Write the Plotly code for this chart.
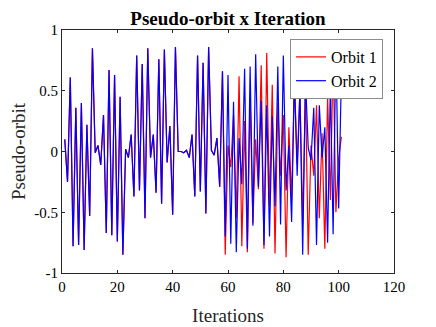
import plotly.graph_objects as go

# iterations 1..101
iterations = list(range(1, 102))

# shared part of both orbits (iterations 1..58)
common = [0.10, -0.25, 0.61, -0.78, 0.36, -0.77, 0.40, -0.81, 0.22, -0.53,
          0.85, -0.01, 0.05, -0.11, 0.30, -0.67, 0.67, -0.69, 0.63, -0.74,
          0.45, -0.85, 0.02, -0.05, 0.14, -0.37, 0.79, -0.32, 0.72, -0.55,
          0.85, -0.05, 0.14, -0.34, 0.76, -0.43, 0.84, -0.09, 0.21, -0.52,
          0.86, 0.00, 0.00, -0.01, 0.01, -0.05, 0.14, -0.37, 0.79, -0.33,
          0.73, -0.51, 0.86, 0.01, -0.03, 0.11, -0.29, 0.66]

# iterations 59..101
tail_orbit1 = [-0.85, 0.05, -0.13, 0.30, -0.55, 0.62, -0.78, 0.25, -0.83, 0.45,
               -0.59, 0.10, -0.31, 0.71, -0.80, 0.81, -0.45, 0.55, -0.84, 0.40,
               -0.20, 0.30, -0.87, 0.20, -0.40, 0.60, -0.10, 0.50, -0.60, 0.55,
               -0.85, 0.05, -0.20, 0.38, -0.55, 0.15, -0.80, 0.45, -0.40, 0.80,
               -0.50, -0.05, 0.12]
tail_orbit2 = [-0.70, 0.63, -0.76, 0.41, -0.83, 0.11, -0.27, 0.68, -0.80, 0.70,
               -0.61, 0.80, -0.29, 0.42, -0.77, 0.38, -0.70, 0.29, -0.45, 0.70,
               -0.60, 0.79, -0.32, 0.05, -0.58, 0.61, -0.20, 0.50, -0.85, 0.60,
               0.03, -0.07, 0.36, -0.77, 0.38, -0.05, 0.20, -0.75, 0.55, -0.68,
               0.88, -0.47, 0.65]

orbit1 = common + tail_orbit1
orbit2 = common + tail_orbit2

x_ticks = [0, 20, 40, 60, 80, 100, 120]
y_ticks = [-1, -0.5, 0, 0.5, 1]
y_tick_text = ["-1", "-0.5", "0", "0.5", "1"]

serif = "Liberation Serif, Times New Roman, serif"

fig = go.Figure()
fig.add_trace(go.Scatter(x=iterations, y=orbit1, mode="lines", name="Orbit 1",
                         line=dict(color="#ff0000", width=1.2)))
fig.add_trace(go.Scatter(x=iterations, y=orbit2, mode="lines", name="Orbit 2",
                         line=dict(color="#0000ff", width=1.2)))

axis_common = dict(showline=True, linecolor="#262626", linewidth=1, mirror="ticks",
                   ticks="inside", ticklen=3, tickcolor="#262626",
                   showgrid=False, zeroline=False, automargin=False,
                   tickfont=dict(family=serif, size=15, color="#000000"))

# page body adds 8px, margins compensate for it
fig.update_layout(
    width=436, height=327,
    margin=dict(l=54, r=50, t=22, b=62),
    paper_bgcolor="white", plot_bgcolor="white",
    title=dict(text="<b>Pseudo-orbit x Iteration</b>", x=0.5, xref="paper",
               xanchor="center", y=0.99, yref="container", yanchor="top",
               font=dict(family=serif, size=19, color="#000000")),
    xaxis=dict(range=[0, 120], tickvals=x_ticks,
               title=dict(text="Iterations", standoff=14,
                          font=dict(family=serif, size=19, color="#262626")),
               **axis_common),
    yaxis=dict(range=[-1, 1], tickvals=y_ticks, ticktext=y_tick_text,
               title=dict(text="Pseudo-orbit", standoff=6,
                          font=dict(family=serif, size=19, color="#262626")),
               **axis_common),
    legend=dict(x=0.967, y=0.963, xanchor="right", yanchor="top",
                bgcolor="white", bordercolor="#8c8c8c", borderwidth=1,
                font=dict(family=serif, size=16, color="#000000"),
                tracegroupgap=0, itemwidth=30),
    showlegend=True,
)

fig.write_html("out.html")
